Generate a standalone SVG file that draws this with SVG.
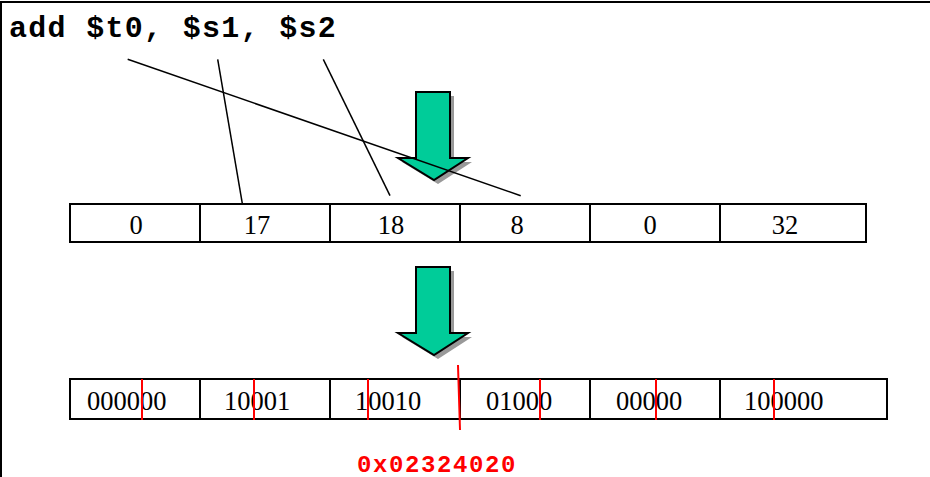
<svg xmlns="http://www.w3.org/2000/svg" width="930" height="477" viewBox="0 0 930 477">
<defs>
<style>
.frame{stroke:#000;stroke-width:2;fill:none}
.box{fill:#fff;stroke:#000;stroke-width:2}
.num{font-family:"Liberation Serif","Times New Roman",serif;font-size:26.5px;fill:#000}
.mono{font-family:"Liberation Mono","Courier New",monospace;font-weight:bold}
.conn{stroke:#000;stroke-width:1.5;fill:none}
.red{stroke:#ff0000;stroke-width:2;fill:none}
.arrow{fill:#00cc99;stroke:#000;stroke-width:2;stroke-linejoin:miter}
.shadow{fill:#999;stroke:none}
</style>
<polygon id="arrowShape" points="0,0 34,0 34,66 52,66 18,88 -18,66 0,66"/>
</defs>
<rect width="930" height="477" fill="#fff"/>
<path class="frame" d="M1,477 V2 H930"/>

<g id="title">
<text class="mono" x="9" y="37" font-size="30" letter-spacing="1.3">add $t0, $s1, $s2</text>
</g>

<g id="arrow1">
<use href="#arrowShape" class="shadow" transform="translate(420,96)"/>
<use href="#arrowShape" class="arrow" transform="translate(416,92)"/>
</g>

<g id="fields">
<g id="f-op"><rect class="box" x="70" y="204" width="130" height="38"/><text class="num" x="136" y="234" text-anchor="middle">0</text></g>
<g id="f-rs"><rect class="box" x="200" y="204" width="130" height="38"/><text class="num" x="257" y="234" text-anchor="middle">17</text></g>
<g id="f-rt"><rect class="box" x="330" y="204" width="130" height="38"/><text class="num" x="391" y="234" text-anchor="middle">18</text></g>
<g id="f-rd"><rect class="box" x="460" y="204" width="130" height="38"/><text class="num" x="517" y="234" text-anchor="middle">8</text></g>
<g id="f-shamt"><rect class="box" x="590" y="204" width="130" height="38"/><text class="num" x="650" y="234" text-anchor="middle">0</text></g>
<g id="f-funct"><rect class="box" x="720" y="204" width="146" height="38"/><text class="num" x="785" y="234" text-anchor="middle">32</text></g>
</g>

<g id="connectors">
<line class="conn" x1="127.7" y1="59.3" x2="520.7" y2="195.7"/>
<line class="conn" x1="217.7" y1="59.3" x2="242.3" y2="203.3"/>
<line class="conn" x1="323.3" y1="59.3" x2="390" y2="195.7"/>
</g>

<g id="arrow2">
<use href="#arrowShape" class="shadow" transform="translate(420,271)"/>
<use href="#arrowShape" class="arrow" transform="translate(416,267)"/>
</g>

<g id="bits">
<g id="b-op"><rect class="box" x="70" y="379" width="130" height="40"/><text class="num" x="87" y="410">000000</text></g>
<g id="b-rs"><rect class="box" x="200" y="379" width="130" height="40"/><text class="num" x="224" y="410">10001</text></g>
<g id="b-rt"><rect class="box" x="330" y="379" width="130" height="40"/><text class="num" x="355" y="410">10010</text></g>
<g id="b-rd"><rect class="box" x="460" y="379" width="130" height="40"/><text class="num" x="486" y="410">01000</text></g>
<g id="b-shamt"><rect class="box" x="590" y="379" width="130" height="40"/><text class="num" x="616" y="410">00000</text></g>
<g id="b-funct"><rect class="box" x="720" y="379" width="167" height="40"/><text class="num" x="744" y="410">100000</text></g>
</g>

<g id="nibble-marks">
<line class="red" x1="142" y1="379" x2="142" y2="420"/>
<line class="red" x1="254" y1="379" x2="254" y2="420"/>
<line class="red" x1="368" y1="379" x2="368" y2="420"/>
<line class="red" x1="540" y1="379" x2="540" y2="420"/>
<line class="red" x1="656" y1="379" x2="656" y2="420"/>
<line class="red" x1="774" y1="379" x2="774" y2="420"/>
<line class="red" x1="458" y1="365" x2="460" y2="430"/>
</g>

<g id="hex">
<text class="mono" x="357" y="472" font-size="24" fill="#ff0000" letter-spacing="1.6">0x02324020</text>
</g>
</svg>
